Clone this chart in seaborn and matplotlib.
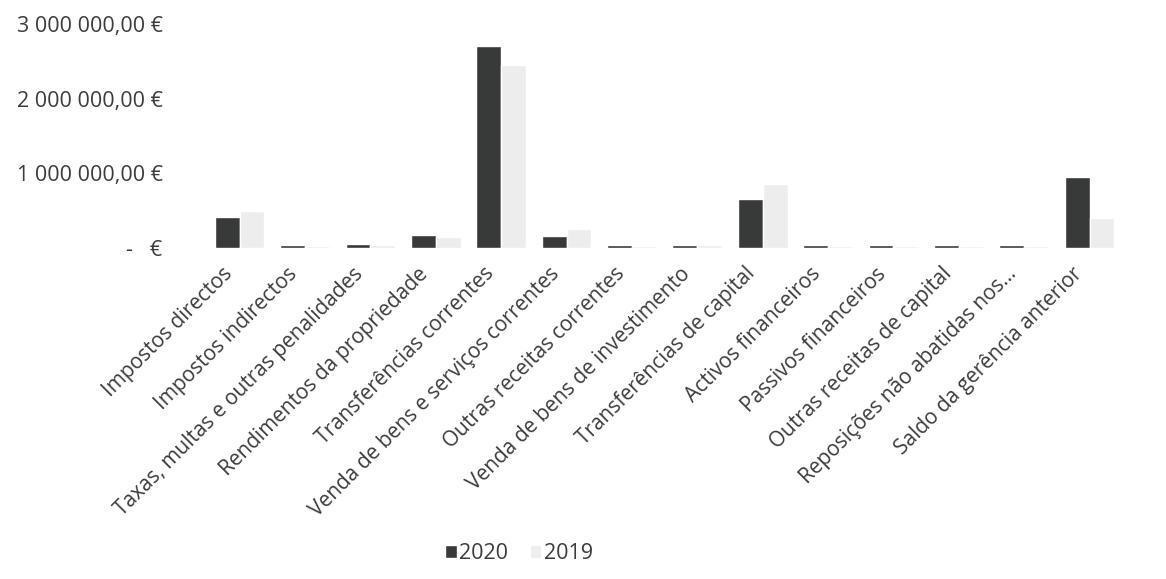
import matplotlib
matplotlib.use("Agg")
import matplotlib.pyplot as plt
import matplotlib.ticker as mticker
import matplotlib.transforms as mtransforms
import pandas as pd
import seaborn as sns

categories = [
    "Impostos directos",
    "Impostos indirectos",
    "Taxas, multas e outras penalidades",
    "Rendimentos da propriedade",
    "Transferências correntes",
    "Venda de bens e serviços correntes",
    "Outras receitas correntes",
    "Venda de bens de investimento",
    "Transferências de capital",
    "Activos financeiros",
    "Passivos financeiros",
    "Outras receitas de capital",
    "Reposições não abatidas nos...",
    "Saldo da gerência anterior",
]
values_2020 = [420000, 40000, 50000, 180000, 2700000, 160000, 40000, 45000,
               650000, 35000, 35000, 35000, 35000, 950000]
values_2019 = [500000, 30000, 40000, 150000, 2450000, 250000, 30000, 35000,
               850000, 25000, 25000, 25000, 25000, 400000]
years = ["2020", "2019"]
y_ticks = [0, 1000000, 2000000, 3000000]

df = pd.DataFrame({
    "categoria": categories * 2,
    "valor": values_2020 + values_2019,
    "ano": [years[0]] * len(categories) + [years[1]] * len(categories),
})

sns.set_theme(style="white")
plt.rcParams["font.family"] = ["Open Sans", "DejaVu Sans"]

fig = plt.figure(figsize=(11.66, 5.79), dpi=100)
ax = fig.add_axes([0.1775, 0.5717, 0.785, 0.387])

sns.barplot(data=df, x="categoria", y="valor", hue="ano", hue_order=years,
            palette={"2020": "#383a3a", "2019": "#ededed"},
            width=0.76, gap=0.0, ax=ax, legend=True, saturation=1)

ax.set_ylim(0, 3000000)
ax.set_yticks(y_ticks)


def euro_fmt(v, pos):
    if v == 0:
        return "-   €"
    s = f"{v:,.2f}".replace(",", " ").replace(".", ",")
    return s + " €"


ax.yaxis.set_major_formatter(mticker.FuncFormatter(euro_fmt))
ax.tick_params(axis="y", labelsize=15.5, labelcolor="#3c3c3c", length=0, pad=32)
ax.tick_params(axis="x", labelsize=15, labelcolor="#3c3c3c", length=0, pad=6)

# nudge the slanted category labels so they end under the dark bars
shift = mtransforms.ScaledTranslation(-0.18, -0.07, fig.dpi_scale_trans)
for lbl in ax.get_xticklabels():
    lbl.set_rotation(45)
    lbl.set_ha("right")
    lbl.set_rotation_mode("anchor")
    lbl.set_transform(lbl.get_transform() + shift)

ax.set_xlabel("")
ax.set_ylabel("")
sns.despine(ax=ax, left=True, bottom=True)
ax.grid(False)

handles, labels = ax.get_legend_handles_labels()
ax.get_legend().remove()
fig.legend(handles, labels, loc="lower center", bbox_to_anchor=(0.445, -0.008),
           ncol=2, frameon=False, fontsize=15.5, handlelength=0.55,
           handleheight=0.55, handletextpad=0.1, columnspacing=1.0,
           labelcolor="#3c3c3c")

fig.savefig("out.png", dpi=100, facecolor="white")
